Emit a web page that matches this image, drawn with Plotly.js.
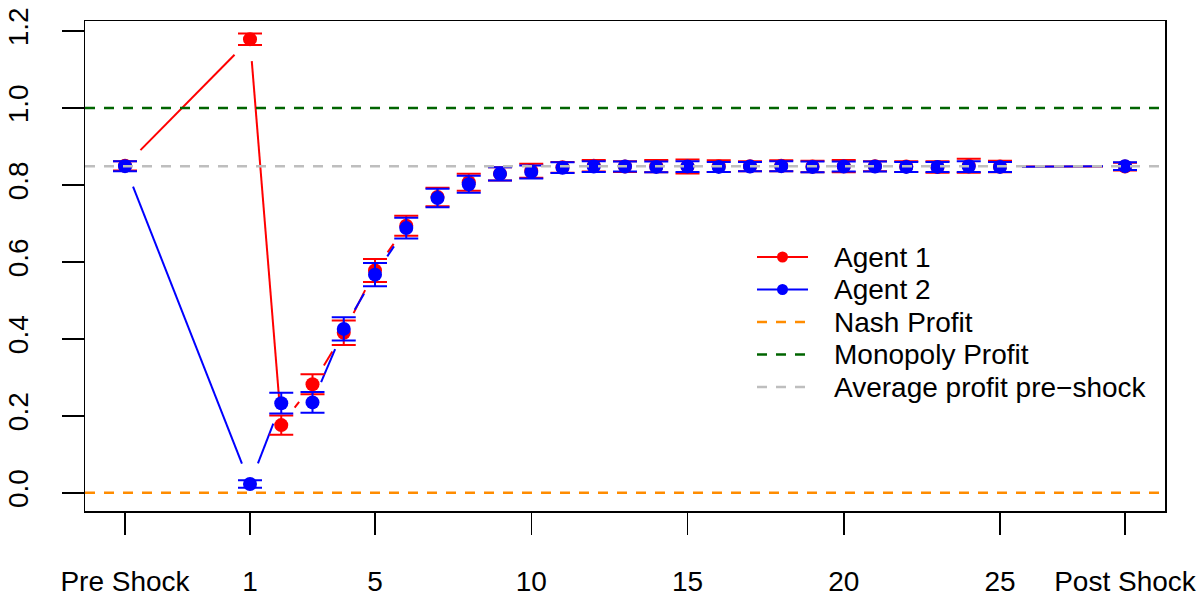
<!DOCTYPE html>
<html><head><meta charset="utf-8">
<script src="https://cdn.plot.ly/plotly-3.0.1.min.js"></script>
<style>html,body{margin:0;padding:0;background:#fff}</style>
</head><body><div id="chart" style="width:1200px;height:597px"></div>
<script>
// ---- data ----
const periodPositions = [-3,1,2,3,4,5,6,7,8,9,10,11,12,13,14,15,16,17,18,19,20,21,22,23,24,25,29];
const tickVals = [-3,1,5,10,15,20,25,29];
const tickText = ['Pre Shock','1','5','10','15','20','25','Post Shock'];
const agent1Profit = [0.850,1.179,0.176,0.282,0.416,0.578,0.694,0.769,0.807,0.829,0.837,0.846,0.850,0.848,0.849,0.848,0.849,0.849,0.850,0.848,0.849,0.849,0.848,0.847,0.850,0.848,0.848];
const agent1Err    = [0.012,0.015,0.025,0.026,0.032,0.030,0.026,0.024,0.022,0.017,0.018,0.014,0.015,0.014,0.016,0.018,0.015,0.013,0.014,0.015,0.016,0.013,0.014,0.015,0.018,0.015,0.010];
const agent2Profit = [0.849,0.023,0.233,0.235,0.426,0.567,0.688,0.766,0.802,0.829,0.834,0.845,0.848,0.848,0.847,0.848,0.847,0.848,0.849,0.847,0.848,0.848,0.847,0.847,0.848,0.847,0.849];
const agent2Err    = [0.013,0.010,0.027,0.027,0.030,0.030,0.027,0.024,0.022,0.017,0.017,0.014,0.014,0.013,0.014,0.014,0.013,0.012,0.013,0.014,0.013,0.013,0.013,0.013,0.014,0.013,0.010];
const nashProfit = 0.0;
const monopolyProfit = 1.0;
const avgProfitPreShock = 0.849;
const seriesNames = ['Agent 1','Agent 2','Nash Profit','Monopoly Profit','Average profit pre\u2212shock'];
const yTickVals = [0,0.2,0.4,0.6,0.8,1.0,1.2];
const yTickText = ['0.0','0.2','0.4','0.6','0.8','1.0','1.2'];

// ---- styles / layout constants ----
const seriesColors = ['#FF0000','#0000FF','#FF8C00','#006400','#BEBEBE'];
const W = 1200, H = 597;
const M = {l:85, r:35, t:21, b:86};
const XR = [-4.28, 30.28];
const YR = [-0.0472, 1.2262];
const GAP = 22; // px gap around points (R type="b")
const FS = 28;
const pw = W - M.l - M.r, ph = H - M.t - M.b;
const sx = pw/(XR[1]-XR[0]), sy = ph/(YR[1]-YR[0]);
const dashStyle = '10px,9px';

function gapSegments(xs, ys){
  const ox=[], oy=[];
  for(let i=0;i<xs.length-1;i++){
    const dxp=(xs[i+1]-xs[i])*sx, dyp=(ys[i+1]-ys[i])*sy;
    const L=Math.hypot(dxp,dyp);
    if(L>2*GAP){
      const f=GAP/L;
      ox.push(xs[i]+(xs[i+1]-xs[i])*f, xs[i+1]-(xs[i+1]-xs[i])*f, null);
      oy.push(ys[i]+(ys[i+1]-ys[i])*f, ys[i+1]-(ys[i+1]-ys[i])*f, null);
    }
  }
  return {x:ox,y:oy};
}
const s1 = gapSegments(periodPositions, agent1Profit);
const s2 = gapSegments(periodPositions, agent2Profit);

const traces = [
  {x:s1.x, y:s1.y, mode:'lines', name:seriesNames[0], line:{color:seriesColors[0],width:2}, connectgaps:false, showlegend:false},
  {x:s2.x, y:s2.y, mode:'lines', name:seriesNames[1], line:{color:seriesColors[1],width:2}, connectgaps:false, showlegend:false},
  {x:periodPositions, y:agent1Profit, mode:'markers', name:seriesNames[0], showlegend:false,
   marker:{size:14,color:seriesColors[0]},
   error_y:{type:'data',array:agent1Err,visible:true,color:seriesColors[0],thickness:2,width:12}},
  {x:periodPositions, y:agent2Profit, mode:'markers', name:seriesNames[1], showlegend:false,
   marker:{size:14,color:seriesColors[1]},
   error_y:{type:'data',array:agent2Err,visible:true,color:seriesColors[1],thickness:2,width:12}},
  {x:XR, y:[nashProfit,nashProfit], mode:'lines', name:seriesNames[2], showlegend:false,
   line:{color:seriesColors[2],width:2.5,dash:dashStyle}},
  {x:XR, y:[monopolyProfit,monopolyProfit], mode:'lines', name:seriesNames[3], showlegend:false,
   line:{color:seriesColors[3],width:2.5,dash:dashStyle}},
  {x:XR, y:[avgProfitPreShock,avgProfitPreShock], mode:'lines', name:seriesNames[4], showlegend:false,
   line:{color:seriesColors[4],width:2.5,dash:dashStyle}}
];

// ---- custom legend (R-style, no border) ----
const LEG = {x0:757, x1:808, textX:832, y0:257, dy:32.5};
const px2x = p => (p - M.l)/pw;
const py2y = p => (H - M.b - p)/ph;
const shapes = [], annotations = [];
seriesNames.forEach((nm,i)=>{
  const yc = py2y(LEG.y0 + i*LEG.dy);
  shapes.push({type:'line', xref:'paper', yref:'paper', x0:px2x(LEG.x0), x1:px2x(LEG.x1), y0:yc, y1:yc,
    line:{color:seriesColors[i], width: i<2 ? 2 : 2.5, dash: i<2 ? 'solid' : dashStyle}});
  if(i<2){
    shapes.push({type:'circle', xref:'paper', yref:'paper', xsizemode:'pixel', ysizemode:'pixel',
      xanchor:px2x((LEG.x0+LEG.x1)/2), yanchor:yc, x0:-5.5, x1:5.5, y0:-5.5, y1:5.5,
      fillcolor:seriesColors[i], line:{width:0}});
  }
  annotations.push({xref:'paper', yref:'paper', x:px2x(LEG.textX), y:yc, xanchor:'left', yanchor:'middle',
    text:nm, showarrow:false, font:{size:FS,color:'#000'}});
});

const layout = {
  width:W, height:H,
  margin:M,
  paper_bgcolor:'#fff', plot_bgcolor:'#fff',
  font:{family:'"Liberation Sans", Arial, Helvetica, sans-serif', size:FS, color:'#000'},
  showlegend:false,
  shapes:shapes, annotations:annotations,
  xaxis:{range:XR, tickvals:tickVals, ticktext:tickText, ticks:'outside', ticklen:22, tickwidth:1.5,
         tickcolor:'#000', showline:true, mirror:true, linecolor:'#000', linewidth:1.5,
         showgrid:false, zeroline:false, ticklabelstandoff:23},
  yaxis:{range:YR, tickvals:yTickVals, ticktext:yTickText, ticks:'outside', ticklen:22, tickwidth:1.5,
         tickcolor:'#000', showline:true, mirror:true, linecolor:'#000', linewidth:1.5,
         showgrid:false, zeroline:false, tickangle:-90, ticklabelstandoff:22}
};

Plotly.newPlot('chart', traces, layout, {displayModeBar:false, staticPlot:true});
</script>
</body></html>
